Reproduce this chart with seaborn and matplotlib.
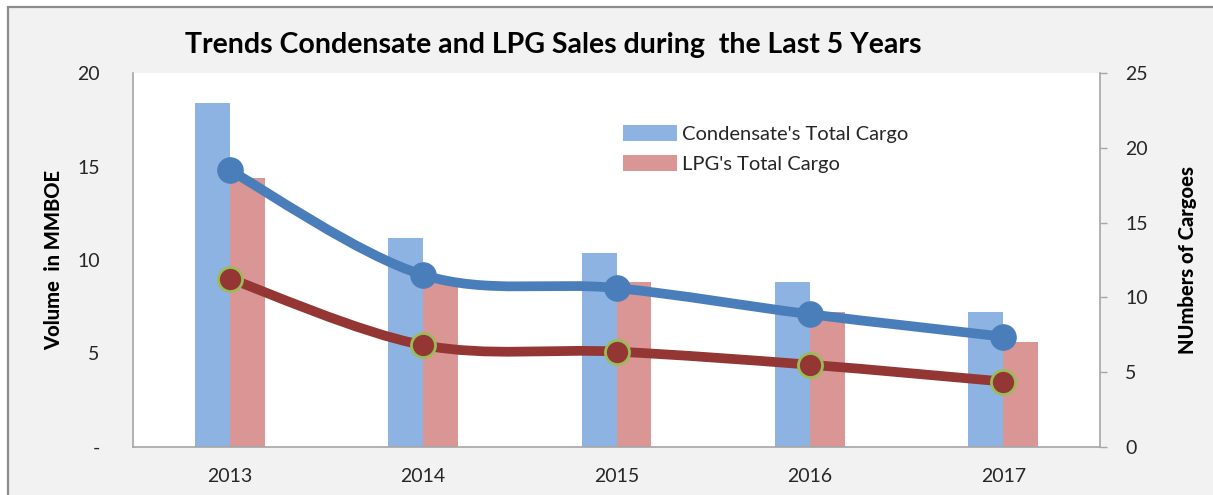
import numpy as np
import pandas as pd
import matplotlib
matplotlib.use("Agg")
import matplotlib.pyplot as plt
import seaborn as sns
from matplotlib.path import Path
from matplotlib.patches import PathPatch, Rectangle, Patch

# ---------------- data ----------------
years = ["2013", "2014", "2015", "2016", "2017"]
condensate_cargo = [23, 14, 13, 11, 9]          # right axis (number of cargoes)
lpg_cargo = [18, 11, 11, 9, 7]
condensate_volume = [14.8, 9.2, 8.5, 7.1, 5.9]  # left axis (MMBOE)
lpg_volume = [9.0, 5.45, 5.1, 4.4, 3.5]
series_names = ["Condensate's Total Cargo", "LPG's Total Cargo"]
left_ticks = [0, 5, 10, 15, 20]
left_ticklabels = ["-", "5", "10", "15", "20"]
right_ticks = [0, 5, 10, 15, 20, 25]

# ---------------- style ----------------
sns.set_theme(style="white")
plt.rcParams["font.family"] = ["Lato", "DejaVu Sans"]

BAR_BLUE = "#8db3e2"
BAR_RED = "#d99694"
LINE_BLUE = "#4a7ebb"
LINE_RED = "#943634"
GREEN_EDGE = "#9bbb59"
TXT = "#262626"
SPINE = "#a6a6a6"

W, H = 1213, 495
fig = plt.figure(figsize=(W / 100, H / 100), dpi=100, facecolor="white")
# outer chart frame
fig.patches.append(Rectangle((8 / W, -0.05), 1.2, 1 - 7 / H + 0.05, transform=fig.transFigure,
                             facecolor="#f2f2f2", edgecolor="#8c8c8c", linewidth=1.6, zorder=-10))

ax = fig.add_axes([133 / W, 1 - 447 / H, (1100 - 133) / W, (447 - 73) / H])
ax2 = ax.twinx()

# bars on right axis
df = pd.DataFrame({
    "Year": years * 2,
    "Cargo": condensate_cargo + lpg_cargo,
    "Series": [series_names[0]] * 5 + [series_names[1]] * 5,
})
sns.barplot(data=df, x="Year", y="Cargo", hue="Series", hue_order=series_names,
            palette=[BAR_BLUE, BAR_RED], saturation=1, width=0.36, gap=0,
            legend=False, ax=ax2, linewidth=0)
ax2.set_ylim(0, 25)
ax2.set_yticks(right_ticks)
ax2.set_ylabel("NUmbers of Cargoes", fontsize=14.5, fontweight="black", color="black", labelpad=22)
ax2.tick_params(axis="y", which="both", right=True, length=5, width=1, color=SPINE,
                labelsize=14, labelcolor=TXT, pad=13, direction="out")
ax2.set_xlabel("")

# layering: lines (left axis) above bars
ax.set_zorder(ax2.get_zorder() + 1)
ax.patch.set_visible(False)
ax2.patch.set_visible(True)
ax2.patch.set_facecolor("white")

x = np.arange(len(years))


def smooth_path(xs, ys):
    pts = np.column_stack([xs, ys]).astype(float)
    P = np.vstack([pts[0], pts, pts[-1]])
    verts = [pts[0]]
    codes = [Path.MOVETO]
    for i in range(len(pts) - 1):
        p0, p1, p2, p3 = P[i], P[i + 1], P[i + 2], P[i + 3]
        c1 = p1 + (p2 - p0) / 6.0
        c2 = p2 - (p3 - p1) / 6.0
        verts += [c1, c2, p2]
        codes += [Path.CURVE4] * 3
    return Path(verts, codes)


ax.add_patch(PathPatch(smooth_path(x, condensate_volume), facecolor="none",
                       edgecolor=LINE_BLUE, linewidth=7, capstyle="round", zorder=3))
ax.add_patch(PathPatch(smooth_path(x, lpg_volume), facecolor="none",
                       edgecolor=LINE_RED, linewidth=7, capstyle="round", zorder=3))
sns.scatterplot(x=x, y=condensate_volume, ax=ax, s=330, color=LINE_BLUE,
                edgecolor=LINE_BLUE, linewidth=1, zorder=4, legend=False)
sns.scatterplot(x=x, y=lpg_volume, ax=ax, s=300, color=LINE_RED,
                edgecolor=GREEN_EDGE, linewidth=2, zorder=4, legend=False)

ax.set_xlim(-0.5, len(years) - 0.5)
ax2.set_xlim(-0.5, len(years) - 0.5)
ax.set_ylim(0, 20)
ax.set_yticks(left_ticks)
ax.set_yticklabels(left_ticklabels)
ax.set_xticks(x)
ax.set_xticklabels(years)
ax.tick_params(axis="y", length=0, labelsize=14, labelcolor=TXT, pad=24)
ax.tick_params(axis="x", length=0, labelsize=14, labelcolor=TXT, pad=15)
ax2.tick_params(axis="x", length=0, labelbottom=False)
ax.set_ylabel("Volume  in MMBOE", fontsize=14.5, fontweight="black", color="black", labelpad=10)

for s in ["top", "right"]:
    ax.spines[s].set_visible(False)
for s in ["left", "bottom"]:
    ax.spines[s].set_color(SPINE)
    ax.spines[s].set_linewidth(1.2)
for s in ["top", "left", "bottom"]:
    ax2.spines[s].set_visible(False)
ax2.spines["right"].set_color(SPINE)
ax2.spines["right"].set_linewidth(1.2)

handles = [Patch(facecolor=BAR_BLUE, edgecolor="none"), Patch(facecolor=BAR_RED, edgecolor="none")]
ax.legend(handles, series_names, loc="upper left", bbox_to_anchor=(0.488, 0.91), frameon=False,
          fontsize=14.5, handlelength=2.7, handleheight=0.85, labelspacing=0.6,
          handletextpad=0.25, labelcolor=TXT)

fig.text(553 / W, 1 - 45 / H, "Trends Condensate and LPG Sales during  the Last 5 Years",
         ha="center", va="center", fontsize=20.5, fontweight="bold", color="black")

fig.savefig("out.png", dpi=100, facecolor=fig.get_facecolor())
